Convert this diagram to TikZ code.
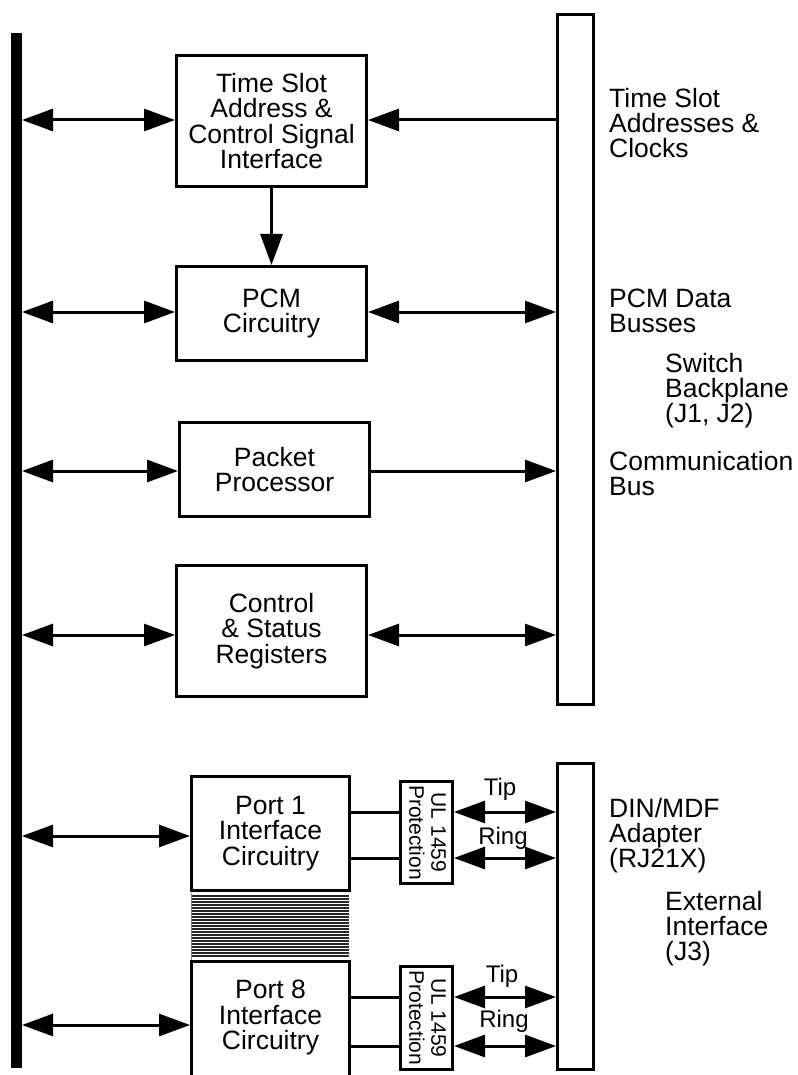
\documentclass[tikz,border=0pt]{standalone}
\usepackage{fontspec}
\setmainfont{Liberation Sans}
\usetikzlibrary{arrows.meta}

\begin{document}
\begin{tikzpicture}[x=1pt,y=-1pt,
  box/.style={draw,line width=3pt,inner sep=0pt,align=center,
    font=\fontsize{26.5}{25.5}\selectfont},
  bus/.style={draw,line width=3pt,inner sep=0pt,minimum width=36pt},
  lab/.style={inner sep=0pt,anchor=north west,align=left,
    font=\fontsize{26.5}{25}\selectfont},
  wirelab/.style={inner sep=0pt,anchor=base,font=\fontsize{24}{25}\selectfont},
  ultext/.style={inner sep=0pt,rotate=-90,align=center,
    font=\fontsize{21}{22}\selectfont},
  head/.tip={Triangle[length=31pt,width=22pt]},
  one/.style={line width=3pt,-head},
  dbl/.style={line width=3pt,head-head},
  wire/.style={line width=3pt},
  hatch/.style={line width=1.3pt,black!85}]

\clip (0,0) rectangle (797,1075);

% main bus on the left
\node[fill=black,inner sep=0pt,outer sep=0pt,minimum width=11pt,minimum height=1035pt] (lbus) at (16.5,550.5) {};

% backplane and external connectors
\node[bus,minimum height=690pt] (rb1) at (575.5,359.5) {};
\node[bus,minimum height=306pt] (rb2) at (575.5,916.5) {};

% functional blocks
\node[box,minimum width=190pt,minimum height=131pt] (ts) at (271.5,121)
  {Time Slot\\Address \&\\Control Signal\\Interface};
\node[box,minimum width=190pt,minimum height=94pt] (pcm) at (271.5,313.5)
  {PCM\\Circuitry};
\node[box,minimum width=190pt,minimum height=94pt] (pp) at (274.5,469.5)
  {Packet\\Processor};
\node[box,minimum width=190pt,minimum height=131pt] (csr) at (271.5,631)
  {Control\\\& Status\\Registers};
\node[box,minimum width=158pt,minimum height=114pt] (p1) at (270.5,833.5)
  {Port 1\\Interface\\Circuitry};
\node[box,minimum width=158pt,minimum height=128.5pt] (p8) at (270.5,1025.75) {};
\node[inner sep=0pt,align=center,font=\fontsize{26.5}{25.5}\selectfont] (p8t) at (270.5,1017.5)
  {Port 8\\Interface\\Circuitry};

% ports 2..7 stacked between port 1 and port 8
\foreach \k in {0,...,20}
  \draw[hatch] (191,896+3*\k) -- (349,896+3*\k);
\draw[line width=0.8pt,gray] (191.5,893) -- (191.5,960);

% line protection
\node[box,minimum width=52pt,minimum height=102pt] (ul1) at (426.5,832.5) {};
\node[box,minimum width=52pt,minimum height=103pt] (ul2) at (426.5,1018) {};
\node[ultext] (ul1t) at (427.5,832.5) {UL 1459\\Protection};
\node[ultext] (ul2t) at (427.5,1018) {UL 1459\\Protection};

% rows of the connectors
\coordinate (r1) at (0,120);
\coordinate (r2) at (0,312);
\coordinate (r3) at (0,471);
\coordinate (r4) at (0,635);
\coordinate (r5) at (0,836);
\coordinate (r6) at (0,1025);
\coordinate (t1) at (0,812);
\coordinate (g1) at (0,858);
\coordinate (t2) at (0,997);
\coordinate (g2) at (0,1046);

% left bus connections
\draw[dbl] (lbus.east |- r1) -- (ts.west |- r1);
\draw[dbl] (lbus.east |- r2) -- (pcm.west |- r2);
\draw[dbl] (lbus.east |- r3) -- (pp.west |- r3);
\draw[dbl] (lbus.east |- r4) -- (csr.west |- r4);
\draw[dbl] (lbus.east |- r5) -- (p1.west |- r5);
\draw[dbl] (lbus.east |- r6) -- (p8.west |- r6);

% backplane connections
\draw[one] (rb1.west |- r1) -- (ts.east |- r1);
\draw[one] (ts.south) -- (pcm.north);
\draw[dbl] (pcm.east |- r2) -- (rb1.west |- r2);
\draw[one] (pp.east |- r3) -- (rb1.west |- r3);
\draw[dbl] (csr.east |- r4) -- (rb1.west |- r4);

% tip and ring
\draw[wire] (p1.east |- t1) -- (ul1.west |- t1);
\draw[wire] (p1.east |- g1) -- (ul1.west |- g1);
\draw[wire] (p8.east |- t2) -- (ul2.west |- t2);
\draw[wire] (p8.east |- g2) -- (ul2.west |- g2);
\draw[dbl] (ul1.east |- t1) -- (rb2.west |- t1);
\draw[dbl] (ul1.east |- g1) -- (rb2.west |- g1);
\draw[dbl] (ul2.east |- t2) -- (rb2.west |- t2);
\draw[dbl] (ul2.east |- g2) -- (rb2.west |- g2);
\node[wirelab] (tip1) at (500,795) {Tip};
\node[wirelab] (ring1) at (503,844) {Ring};
\node[wirelab] (tip2) at (502,982) {Tip};
\node[wirelab] (ring2) at (504,1027) {Ring};

% signal names
\node[lab] (lts) at (609,88.5) {Time Slot\\Addresses \&\\Clocks};
\node[lab] (lpcm) at (609,288.3) {PCM Data\\Busses};
\node[lab] (lsw) at (665,353.3) {Switch\\Backplane\\(J1, J2)};
\node[lab] (lcom) at (609,451.3) {Communication\\Bus};
\node[lab] (ldin) at (609,798.3) {DIN/MDF\\Adapter\\(RJ21X)};
\node[lab] (lext) at (665,891.3) {External\\Interface\\(J3)};
\end{tikzpicture}
\end{document}
